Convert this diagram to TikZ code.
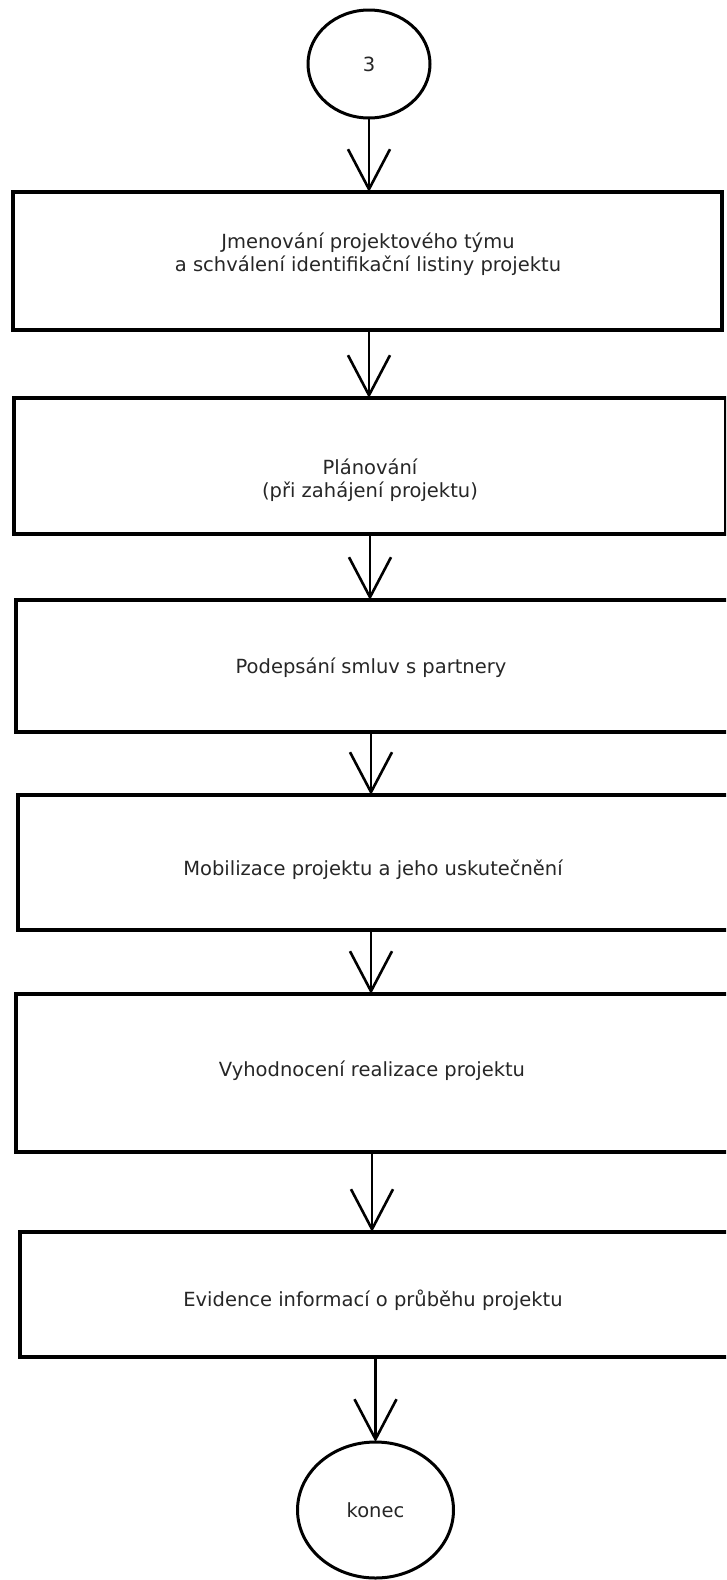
\documentclass[tikz,border=0pt]{standalone}
\usepackage{fontspec}
\setmainfont{DejaVu Sans}
\usetikzlibrary{arrows.meta,shapes.geometric}
\begin{document}
\begin{tikzpicture}[x=1pt,y=-1pt,
  stepbox/.style={draw, line width=4pt, rectangle, inner sep=0pt, outer sep=0pt},
  term/.style={draw, line width=3pt, ellipse, inner sep=0pt, outer sep=0pt, font=\fontsize{19.5}{23}\selectfont, text=black!85},
  lbl/.style={align=center, inner sep=0pt, font=\fontsize{19.5}{23}\selectfont, text=black!85},
  arr/.style={line width=2.6pt, -{Straight Barb[length=40pt,width=42pt,line width=2.6pt]}}]
\useasboundingbox (0,0) rectangle (726,1580);
\begin{scope}
\clip (0,0) rectangle (726,1580);
\node[term, minimum width=122pt, minimum height=108pt] (c1) at (369,64) {3};
\node[stepbox, minimum width=709pt, minimum height=138pt] (b1) at (367.5,261) {};
\node[stepbox, minimum width=712pt, minimum height=136pt] (b2) at (370,466) {};
\node[stepbox, minimum width=714pt, minimum height=132pt] (b3) at (373,666) {};
\node[stepbox, minimum width=712pt, minimum height=135pt] (b4) at (374,862.5) {};
\node[stepbox, minimum width=714pt, minimum height=158pt] (b5) at (373,1073) {};
\node[stepbox, minimum width=710pt, minimum height=125pt] (b6) at (375,1294.5) {};
\node[term, minimum width=156pt, minimum height=136pt] (c2) at (375.5,1510) {konec};
\node[lbl] (t1) at (368,254) {Jmenování projektového týmu\\a schválení identifikační listiny projektu};
\node[lbl] (t2) at (370,480) {Plánování\\(při zahájení projektu)};
\node[lbl] (t3) at (371,668) {Podepsání smluv s partnery};
\node[lbl] (t4) at (373,870) {Mobilizace projektu a jeho uskutečnění};
\node[lbl] (t5) at (372,1071) {Vyhodnocení realizace projektu};
\node[lbl] (t6) at (373,1300) {Evidence informací o průběhu projektu};
\draw[arr] (c1.south) -- (c1.south |- b1.north);
\draw[arr] ([xshift=1.5pt]b1.south) -- ([xshift=1.5pt]b1.south |- b2.north);
\draw[arr] (b2.south) -- (b2.south |- b3.north);
\draw[arr] ([xshift=-2pt]b3.south) -- ([xshift=-2pt]b3.south |- b4.north);
\draw[arr] ([xshift=-3pt]b4.south) -- ([xshift=-3pt]b4.south |- b5.north);
\draw[arr] ([xshift=-1pt]b5.south) -- ([xshift=-1pt]b5.south |- b6.north);
\draw[arr] (c2.north |- b6.south) -- (c2.north);
\end{scope}
\end{tikzpicture}
\end{document}
